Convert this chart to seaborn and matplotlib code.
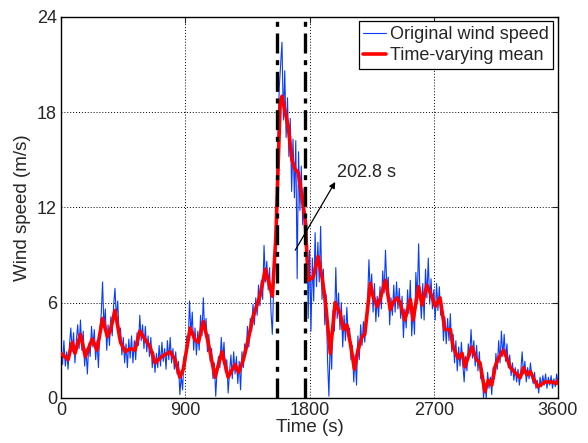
import numpy as np
import pandas as pd
import matplotlib
matplotlib.use("Agg")
import matplotlib.pyplot as plt
import seaborn as sns

wind_speed = [
    3.2, 2.1, 3.6, 2.0, 2.9, 1.8, 3.3, 4.4, 2.9, 4.1,
    2.2, 3.6, 4.6, 3.1, 4.9, 3.0, 4.2, 2.0, 3.1, 1.5,
    3.4, 2.6, 4.5, 3.2, 4.3, 2.4, 3.6, 1.9, 4.3, 5.2,
    7.3, 4.4, 5.6, 3.0, 4.6, 3.3, 5.1, 3.9, 5.8, 6.9,
    5.0, 6.1, 3.9, 4.4, 2.7, 3.8, 2.2, 3.4, 1.9, 3.7,
    2.5, 3.9, 2.2, 3.6, 2.4, 4.1, 3.3, 5.2, 3.6, 4.6,
    3.1, 4.5, 2.9, 3.9, 2.6, 3.8, 1.9, 2.9, 1.6, 2.8,
    1.9, 3.3, 2.0, 3.5, 2.3, 3.1, 1.8, 3.6, 2.4, 3.8,
    2.2, 3.1, 1.8, 2.9, 1.5, 2.3, 0.2, 1.4, 0.5, 2.6,
    2.0, 3.9, 3.3, 6.1, 4.0, 5.4, 3.0, 4.4, 2.7, 4.2,
    3.0, 5.2, 3.9, 6.3, 4.1, 5.0, 2.9, 4.0, 2.3, 3.1,
    1.2, 2.2, 0.1, 1.8, 2.6, 1.9, 3.8, 2.4, 3.5, 1.6,
    2.4, 0.3, 1.6, 2.7, 1.2, 2.9, 1.5, 2.6, 0.9, 2.3,
    0.5, 2.9, 1.9, 3.4, 2.8, 4.5, 3.2, 5.0, 4.2, 5.9,
    4.6, 6.3, 5.2, 7.1, 5.8, 7.4, 6.2, 9.6, 7.3, 8.6,
    6.8, 8.2, 5.5, 4.0, 7.0, 9.6, 12.5, 15.8, 19.5, 21.0,
    22.4, 17.5, 20.6, 16.4, 18.9, 15.2, 17.6, 13.0, 16.3, 12.6,
    16.2, 7.5, 15.5, 11.8, 14.6, 10.9, 13.2, 9.5, 11.0, 5.0,
    9.3, 4.2, 8.8, 6.1, 10.4, 7.0, 9.8, 7.3, 10.8, 6.2,
    8.1, 4.6, 6.5, 2.4, 0.1, 3.9, 1.8, 5.5, 4.2, 8.2,
    5.0, 6.6, 4.3, 6.0, 3.2, 5.2, 3.6, 5.7, 3.9, 4.4,
    2.4, 3.3, 1.0, 2.7, 0.8, 3.9, 2.4, 4.6, 3.3, 4.8,
    3.5, 5.1, 6.0, 8.7, 6.5, 7.8, 5.4, 7.2, 4.8, 6.4,
    5.1, 7.0, 5.6, 8.0, 6.6, 9.3, 6.9, 7.6, 4.6, 6.3,
    5.2, 7.1, 5.4, 7.3, 5.6, 6.9, 5.0, 6.4, 3.8, 5.6,
    4.4, 6.8, 5.3, 7.4, 3.9, 5.6, 4.0, 7.9, 6.1, 9.7,
    6.4, 5.0, 7.2, 4.9, 8.1, 6.3, 8.8, 5.9, 7.5, 5.6,
    6.8, 4.9, 7.2, 5.5, 7.0, 5.2, 5.8, 3.6, 5.1, 3.4,
    5.0, 3.6, 5.3, 2.9, 4.0, 2.2, 3.6, 1.7, 3.2, 2.0,
    3.5, 2.1, 1.0, 2.6, 1.7, 3.4, 2.6, 4.3, 2.5, 3.6,
    2.0, 3.3, 1.7, 2.9, 1.2, 1.8, 0.0, 0.9, 0.0, 1.6,
    0.6, 1.3, 0.2, 1.9, 1.2, 2.8, 1.8, 3.6, 2.2, 4.2,
    2.6, 4.0, 2.3, 3.4, 1.9, 2.7, 1.4, 2.2, 1.1, 1.9,
    1.0, 1.8, 0.8, 1.6, 2.9, 1.5, 2.3, 1.0, 1.9, 1.2,
    2.2, 1.4, 0.9, 1.6, 0.6, 1.1, 0.3, 1.3, 0.7, 1.4,
    0.8, 1.5, 0.6, 1.3, 0.8, 1.4, 0.6, 1.2, 0.7, 1.5,
    0.9,
]
time_s = np.arange(0, 10 * len(wind_speed), 10)

# Time-varying mean
mean_t = [0, 50, 80, 100, 140, 175, 225, 260, 300, 335, 355, 390, 430, 465, 500,
          535, 570, 610, 645, 680, 730, 790, 825, 860, 885, 935, 970, 995, 1030,
          1065, 1115, 1165, 1210, 1260, 1285, 1320, 1355, 1390, 1440, 1480, 1530,
          1555, 1587, 1600, 1623, 1645, 1672, 1695, 1717, 1745, 1768, 1790, 1825,
          1862, 1890, 1913, 1950, 1985, 2020, 2045, 2070, 2095, 2125, 2150, 2180,
          2200, 2240, 2260, 2290, 2310, 2350, 2385, 2405, 2435, 2455, 2490, 2530,
          2550, 2590, 2615, 2650, 2685, 2710, 2745, 2780, 2820, 2840, 2875, 2905,
          2925, 2975, 3010, 3035, 3070, 3095, 3120, 3145, 3170, 3205, 3230, 3255,
          3305, 3325, 3350, 3375, 3400, 3420, 3455, 3505, 3555, 3590, 3600]
mean_v = [2.8, 2.4, 3.5, 2.8, 4.0, 2.6, 3.7, 3.0, 5.0, 3.85, 4.2, 5.5, 3.5, 2.9, 3.1,
          3.0, 4.2, 3.65, 3.2, 2.2, 2.6, 2.9, 2.4, 1.3, 1.8, 4.4, 3.65, 3.5, 4.8,
          3.5, 1.3, 2.9, 1.3, 2.1, 1.6, 2.4, 3.65, 5.1, 6.4, 8.1, 6.4,
          10.0, 18.6, 19.0, 18.0, 17.1, 15.0, 14.4, 14.2, 12.7, 11.2, 7.4, 7.6,
          8.9, 7.6, 6.2, 2.8, 6.0, 5.35, 4.3, 4.6, 3.45, 1.8, 3.0, 3.85,
          4.0, 7.2, 6.4, 5.75, 6.2, 7.4, 5.55, 6.0, 6.3, 6.0, 4.9, 6.2,
          4.9, 7.0, 5.85, 7.1, 6.4, 5.75, 6.3, 4.3, 4.3, 3.2, 2.5, 2.8,
          1.95, 3.2, 2.4, 2.2, 0.4, 1.1, 0.8, 2.0, 2.5, 3.0, 2.5, 1.9,
          1.45, 1.25, 1.9, 1.45, 1.65, 1.25, 0.7, 1.0, 1.0, 0.9, 1.1]

event_bounds = [1562, 1765]
duration_label = "202.8 s"
x_ticks = [0, 900, 1800, 2700, 3600]
y_ticks = [0, 6, 12, 18, 24]

sns.set_style("white")
plt.rcParams['font.family'] = ['Liberation Sans', 'DejaVu Sans']

fig = plt.figure(figsize=(5.88, 4.43), dpi=100)
ax = fig.add_axes([0.104, 0.102, 0.845, 0.860])

raw = pd.DataFrame({"t": time_s, "v": wind_speed})
mean = pd.DataFrame({"t": mean_t, "v": mean_v})

sns.lineplot(data=raw, x="t", y="v", ax=ax, color="#0a3cff", lw=0.8,
             label="Original wind speed", estimator=None, zorder=2)
sns.lineplot(data=mean, x="t", y="v", ax=ax, color="#ff0000", lw=2.6,
             label="Time-varying mean", estimator=None, zorder=3)

for xb in event_bounds:
    ax.axvline(xb, color="black", lw=2.4, ls=(0, (6, 2, 1.5, 2)), zorder=4)

ax.annotate("", xy=(1986, 13.6), xytext=(1696, 9.3),
            arrowprops=dict(arrowstyle="-|>", color="black", lw=0.9,
                            mutation_scale=9, shrinkA=0, shrinkB=0),
            zorder=5)
ax.text(2000, 14.2, duration_label, fontsize=13, ha="left", va="center", zorder=5)

ax.set_xlim(0, 3600)
ax.set_ylim(0, 24)
ax.set_xticks(x_ticks)
ax.set_yticks(y_ticks)
ax.tick_params(direction="in", length=4, labelsize=13, width=0.8,
               top=True, right=True, pad=3)
ax.grid(True, color="black", ls=(0, (1, 2)), lw=0.7)
ax.set_xlabel("Time (s)", fontsize=13.5, labelpad=0)
ax.set_ylabel("Wind speed (m/s)", fontsize=13.5, labelpad=4)
for s in ax.spines.values():
    s.set_color("black")
    s.set_linewidth(1.0)

leg = ax.legend(loc="upper right", fontsize=13, frameon=True, fancybox=False,
                edgecolor="black", framealpha=1, borderpad=0.25,
                handlelength=1.3, handletextpad=0.2, labelspacing=0.25,
                borderaxespad=0.25)
leg.get_frame().set_linewidth(0.9)

fig.savefig("out.png", dpi=100)
